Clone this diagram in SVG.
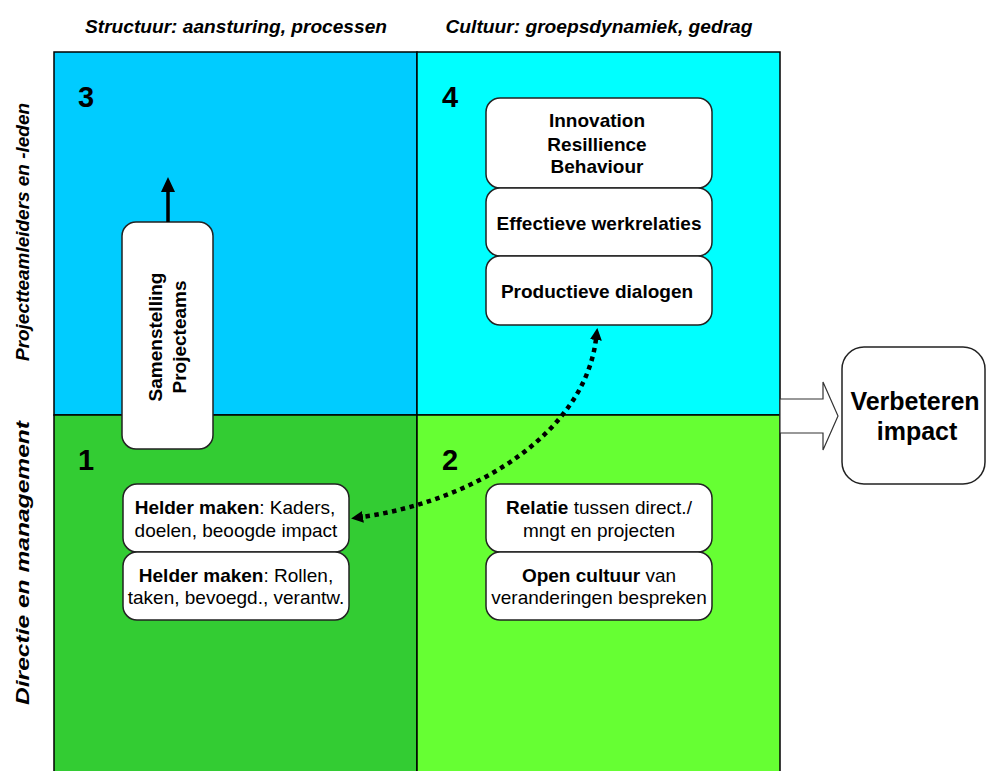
<svg xmlns="http://www.w3.org/2000/svg" width="987" height="771" viewBox="0 0 987 771">
<style>
text{font-family:"Liberation Sans",Arial,sans-serif;fill:#000}
.hdr{font-size:19px;font-weight:bold;font-style:italic}
.num{font-size:29px;font-weight:bold}
.t{font-size:19px;text-anchor:middle}
.b{font-weight:bold}
.box{fill:#fff;stroke:#222;stroke-width:1.5}
.quad{stroke:#000;stroke-width:1.5}
</style>
<defs>
<marker id="ah" viewBox="0 0 12 12" refX="1" refY="6" markerWidth="12" markerHeight="12" markerUnits="userSpaceOnUse" orient="auto-start-reverse">
<path d="M0,0 L12,6 L0,12 z" fill="#000"/>
</marker>
</defs>
<rect width="987" height="771" fill="#fff"/>

<g id="headers">
<text class="hdr" x="236" y="33" text-anchor="middle" textLength="302" lengthAdjust="spacingAndGlyphs">Structuur: aansturing, processen</text>
<text class="hdr" x="599" y="33" text-anchor="middle" textLength="307" lengthAdjust="spacingAndGlyphs">Cultuur: groepsdynamiek, gedrag</text>
<text class="hdr" transform="translate(29,232) rotate(-90)" text-anchor="middle" textLength="258" lengthAdjust="spacingAndGlyphs">Projectteamleiders en -leden</text>
<text class="hdr" transform="translate(29,563) rotate(-90)" text-anchor="middle" textLength="284" lengthAdjust="spacingAndGlyphs">Directie en management</text>
</g>

<g id="quadrants">
<rect id="q3" class="quad" x="54" y="52" width="363" height="363" fill="#00CCFF"/>
<rect id="q4" class="quad" x="417" y="52" width="363" height="363" fill="#00FFFF"/>
<rect id="q1" class="quad" x="54" y="415" width="363" height="360" fill="#33CC33"/>
<rect id="q2" class="quad" x="417" y="415" width="363" height="360" fill="#66FF33"/>
<text class="num" x="78" y="107">3</text>
<text class="num" x="442" y="107">4</text>
<text class="num" x="78" y="470">1</text>
<text class="num" x="442" y="470">2</text>
</g>

<g id="samenstelling">
<rect class="box" x="122" y="222" width="91" height="227" rx="14"/>
<text class="t b" transform="translate(162,337) rotate(-90)">Samenstelling</text>
<text class="t b" transform="translate(186,337) rotate(-90)">Projecteams</text>
</g>

<g id="innovation">
<rect class="box" x="486" y="98" width="226" height="90" rx="14"/>
<text class="t b" x="597" y="127">Innovation</text>
<text class="t b" x="597" y="150.5">Resillience</text>
<text class="t b" x="597" y="173">Behaviour</text>
</g>
<g id="werkrelaties">
<rect class="box" x="486" y="188" width="226" height="68" rx="14"/>
<text class="t b" x="599" y="230">Effectieve werkrelaties</text>
</g>
<g id="dialogen">
<rect class="box" x="486" y="256" width="226" height="69" rx="14"/>
<text class="t b" x="597" y="298">Productieve dialogen</text>
</g>

<g id="kaders">
<rect class="box" x="123" y="484" width="226" height="68" rx="14"/>
<text class="t" x="235" y="514"><tspan class="b">Helder maken</tspan>: Kaders,</text>
<text class="t" x="236" y="537">doelen, beoogde impact</text>
</g>
<g id="rollen">
<rect class="box" x="123" y="552" width="226" height="68" rx="14"/>
<text class="t" x="236" y="582"><tspan class="b">Helder maken</tspan>: Rollen,</text>
<text class="t" x="236" y="604">taken, bevoegd., verantw.</text>
</g>

<g id="relatie">
<rect class="box" x="486" y="484" width="226" height="68" rx="14"/>
<text class="t" x="599" y="514"><tspan class="b">Relatie</tspan> tussen direct./</text>
<text class="t" x="599" y="537">mngt en projecten</text>
</g>
<g id="open-cultuur">
<rect class="box" x="486" y="552" width="226" height="68" rx="14"/>
<text class="t" x="599" y="582"><tspan class="b">Open cultuur</tspan> van</text>
<text class="t" x="599" y="604">veranderingen bespreken</text>
</g>

<g id="verbeteren">
<rect class="box" x="842" y="347" width="143" height="137" rx="22"/>
<text x="915" y="410" text-anchor="middle" font-size="25" font-weight="bold">Verbeteren</text>
<text x="917" y="440" text-anchor="middle" font-size="25" font-weight="bold">impact</text>
</g>

<g id="connectors">
<line x1="168" y1="222" x2="168" y2="190" stroke="#000" stroke-width="3.5"/>
<polygon points="168,177 175,192 161,192" fill="#000"/>
<path d="M596,339 C585,430 480,500 362,517" fill="none" stroke="#000" stroke-width="4.5" stroke-dasharray="4.5 4.5" marker-start="url(#ah)" marker-end="url(#ah)"/>
<polygon points="780,399 823,399 823,382 838,416 823,450 823,433 780,433" fill="#fff" stroke="#333" stroke-width="1.2"/>
</g>
</svg>
